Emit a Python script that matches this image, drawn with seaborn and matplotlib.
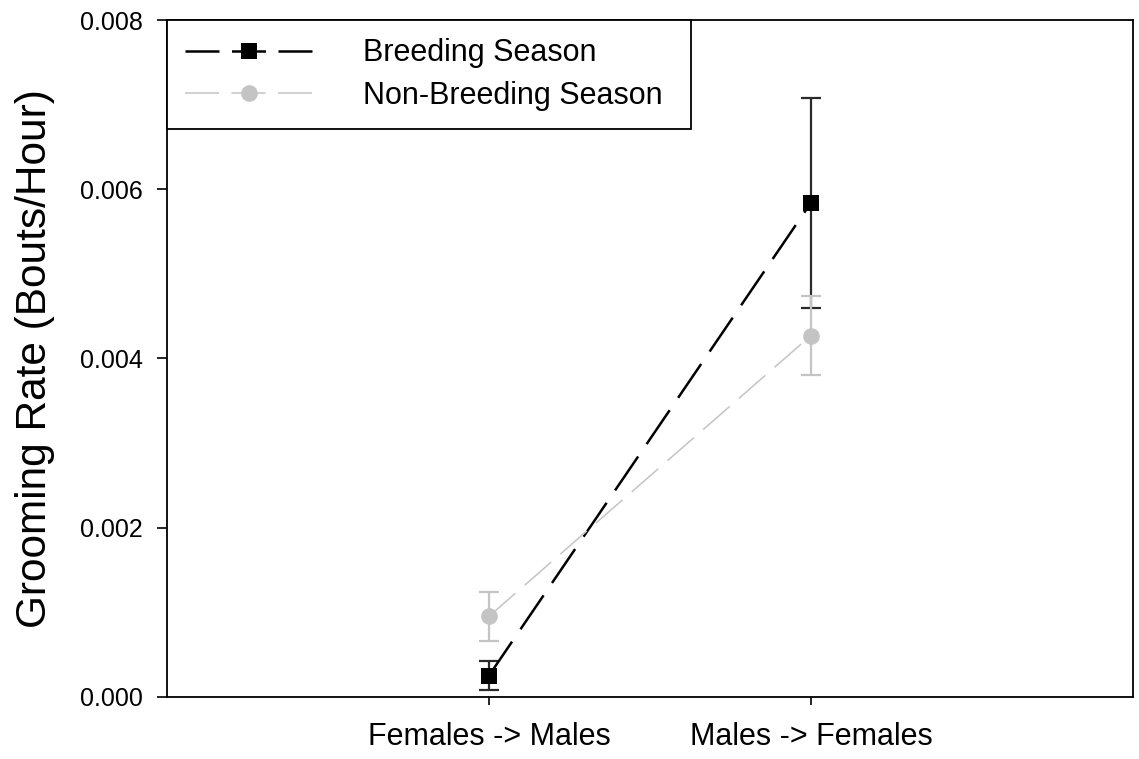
import matplotlib
matplotlib.use("Agg")
import matplotlib.pyplot as plt
import numpy as np
import pandas as pd
import seaborn as sns
from matplotlib.lines import Line2D

# Grooming rates (mean and standard error) by direction and season
directions = ["Females -> Males", "Males -> Females"]
seasons = ["Breeding Season", "Non-Breeding Season"]
breeding_mean = [0.00025, 0.00584]
breeding_se = [0.00017, 0.00124]
nonbreeding_mean = [0.00095, 0.00427]
nonbreeding_se = [0.00029, 0.00047]
y_ticks = [0.000, 0.002, 0.004, 0.006, 0.008]

df = pd.DataFrame({
    "Direction": directions * 2,
    "Season": [seasons[0]] * 2 + [seasons[1]] * 2,
    "Rate": breeding_mean + nonbreeding_mean,
    "SE": breeding_se + nonbreeding_se,
})

sns.set_style("ticks")
plt.rcParams["font.family"] = ["Liberation Sans", "DejaVu Sans"]
plt.rcParams["text.color"] = "black"
plt.rcParams["axes.labelcolor"] = "black"

BLACK = "#000000"
GREY = "#c4c4c4"
palette = {seasons[0]: BLACK, seasons[1]: GREY}
marker_map = {seasons[0]: "s", seasons[1]: "o"}
dash_map = {seasons[0]: (16.4, 6.0), seasons[1]: (23.0, 8.0)}
line_w = {seasons[0]: 1.8, seasons[1]: 1.1}
err_color = {seasons[0]: "#2a2a2a", seasons[1]: GREY}

fig = plt.figure(figsize=(11.39, 7.59), dpi=100)
ax = fig.add_axes([0.1466, 0.0821, 0.8481, 0.8915])

# error bars first so the connecting lines and markers sit above them
for i, s in enumerate(seasons):
    sub = df[df["Season"] == s]
    ax.errorbar(x=np.arange(len(sub)), y=sub["Rate"], yerr=sub["SE"], fmt="none",
                ecolor=err_color[s], elinewidth=1.6, capsize=7.2, capthick=1.6,
                zorder=2 + i)

n_before = len(ax.lines)
sns.lineplot(data=df, x="Direction", y="Rate", hue="Season", style="Season",
             hue_order=seasons, style_order=seasons, palette=palette,
             markers=marker_map, dashes=dash_map, errorbar=None,
             markersize=12, markeredgewidth=0, legend=False, ax=ax, zorder=4)

for line, s in zip(ax.lines[n_before:], seasons):
    line.set_linewidth(line_w[s])
    line.set_dashes(dash_map[s])

ax.set_xlim(-1, 2)
ax.set_ylim(0, 0.008)
ax.set_yticks(y_ticks)
ax.set_yticklabels([f"{v:.3f}" for v in y_ticks])
ax.set_xlabel("")
ax.set_ylabel("Grooming Rate (Bouts/Hour)", fontsize=30.5, color="black")
ax.yaxis.set_label_coords(-0.116, 0.5)

for sp in ax.spines.values():
    sp.set_visible(True)
    sp.set_linewidth(1.3)
    sp.set_color("black")

ax.tick_params(axis="y", direction="out", length=7.2, width=1.2, labelsize=18,
               pad=10, colors="black")
ax.tick_params(axis="x", direction="out", length=6, width=1.2, labelsize=22,
               pad=12, colors="black")

# legend handles: dashed line with a single marker in the middle
handles = []
for s in seasons:
    lw = line_w[s]
    px = lw * 100 / 72
    on, off = 34 / px, 12.5 / px
    handles.append(Line2D([], [], color=palette[s], lw=lw, dashes=(on, off),
                          marker=marker_map[s], markersize=12,
                          markeredgewidth=0))

leg = ax.legend(handles, seasons, loc="upper left",
                bbox_to_anchor=(0, 1, 0.5424, 0), mode="expand",
                borderaxespad=0, fontsize=22, handlelength=4.16,
                handletextpad=1.64, borderpad=0.6, labelspacing=0.4,
                numpoints=1, fancybox=False, frameon=True)
leg.get_frame().set_edgecolor("black")
leg.get_frame().set_linewidth(1.3)
leg.get_frame().set_alpha(1)
for t in leg.get_texts():
    t.set_color("black")

fig.savefig("out.png", dpi=100)
